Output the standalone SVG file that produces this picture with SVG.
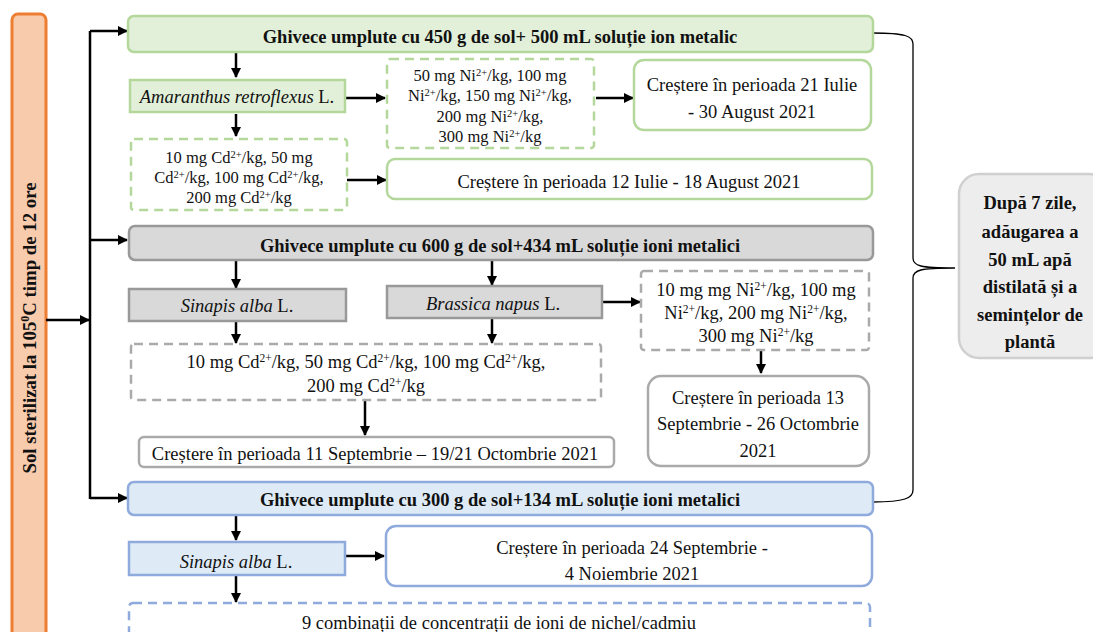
<svg xmlns="http://www.w3.org/2000/svg" width="1093" height="632" viewBox="0 0 1093 632">
<defs>
<marker id="ah" viewBox="0 0 10 10" refX="9" refY="5" markerWidth="4" markerHeight="4" orient="auto" markerUnits="strokeWidth"><path d="M0,0 L10,5 L0,10 z" fill="#000"/></marker>
<style>
text{font-family:"Liberation Serif","Times New Roman",serif;fill:#111;}
.b{font-weight:bold;font-size:18.5px;}
.v{font-weight:bold;font-size:18.8px;}
.r{font-size:18.5px;}
.s{font-size:16.5px;}
.m{font-size:18.5px;}
.gr{fill:#E2F0D9;stroke:#B4D89C;stroke-width:2.5;}
.grw{fill:#fff;stroke:#B4D89C;stroke-width:2.5;}
.grd{fill:#fff;stroke:#B4D89C;stroke-width:2.5;stroke-dasharray:9 6;}
.gy{fill:#D9D9D9;stroke:#999;stroke-width:2.5;}
.gyw{fill:#fff;stroke:#AAA;stroke-width:2.5;}
.gyd{fill:#fff;stroke:#AAA;stroke-width:2.5;stroke-dasharray:9 6;}
.bl{fill:#DEEBF7;stroke:#8FAADC;stroke-width:2.5;}
.blw{fill:#fff;stroke:#8FAADC;stroke-width:2.5;}
.bld{fill:#fff;stroke:#8FAADC;stroke-width:2.5;stroke-dasharray:9 6;}
.c{fill:none;stroke:#000;stroke-width:2.5;marker-end:url(#ah);}
.l{fill:none;stroke:#000;stroke-width:2.5;}
.sup{font-size:10.5px;}
.sup2{font-size:11.5px;}
</style>
</defs>

<g id="sol">
<rect x="12" y="14" width="34" height="640" rx="6" fill="#F8CBAD" stroke="#ED7D31" stroke-width="3"/>
<text class="v" transform="translate(36,328) rotate(-90)" text-anchor="middle">Sol sterilizat la 105<tspan dy="-7" font-size="12">0</tspan><tspan dy="7">C timp de 12 ore</tspan></text>
</g>

<g id="connectors">
<path class="c" d="M46,320 H89"/>
<path class="l" d="M90,31 V499"/>
<path class="c" d="M90,31 H127"/>
<path class="c" d="M90,240 H127"/>
<path class="c" d="M90,498 H127"/>
<path class="c" d="M236,53 V77"/>
<path class="c" d="M346,98 H385"/>
<path class="c" d="M596,98 H633"/>
<path class="c" d="M236,114 V136"/>
<path class="c" d="M347,180 H386"/>
<path class="c" d="M236,261 V288"/>
<path class="c" d="M492,261 V285"/>
<path class="c" d="M603,302 H640"/>
<path class="c" d="M761,351 V373"/>
<path class="c" d="M236,322 V343"/>
<path class="c" d="M492,319 V343"/>
<path class="c" d="M365,401 V435"/>
<path class="c" d="M236,516 V540"/>
<path class="c" d="M345,556 H384"/>
<path class="c" d="M236,576 V602"/>
<path fill="none" stroke="#000" stroke-width="1.3" d="M873,33 C905,33 913,36 913,44 V258 C913,266 920,268 955,268 C920,268 913,270 913,278 V490 C913,498 905,502 873,502"/>
</g>

<g id="top">
<rect class="gr" x="128" y="16" width="745" height="36" rx="6"/>
<text class="b" x="500" y="43" text-anchor="middle">Ghivece umplute cu 450 g de sol+ 500 mL soluție ion metalic</text>
</g>
<g id="amaranthus">
<rect class="gr" x="130" y="80" width="215" height="32"/>
<text class="m" x="237" y="103" text-anchor="middle"><tspan font-style="italic">Amaranthus retroflexus</tspan> L.</text>
</g>
<g id="ni1">
<rect class="grd" x="387" y="59" width="207" height="89" rx="3"/>
<text class="s" text-anchor="middle"><tspan x="490" y="81">50 mg Ni<tspan dy="-5" class="sup">2+</tspan><tspan dy="5">/kg, 100 mg</tspan></tspan><tspan x="490" y="101">Ni<tspan dy="-5" class="sup">2+</tspan><tspan dy="5">/kg, 150 mg Ni</tspan><tspan dy="-5" class="sup">2+</tspan><tspan dy="5">/kg,</tspan></tspan><tspan x="490" y="122">200 mg Ni<tspan dy="-5" class="sup">2+</tspan><tspan dy="5">/kg,</tspan></tspan><tspan x="490" y="142">300 mg Ni<tspan dy="-5" class="sup">2+</tspan><tspan dy="5">/kg</tspan></tspan></text>
</g>
<g id="c21iulie">
<rect class="grw" x="634" y="60" width="237" height="70" rx="10"/>
<text class="r" text-anchor="middle"><tspan x="752" y="91">Creștere în perioada 21 Iulie</tspan><tspan x="752" y="118">- 30 August 2021</tspan></text>
</g>
<g id="cd1">
<rect class="grd" x="131" y="139" width="216" height="71" rx="3"/>
<text class="s" text-anchor="middle"><tspan x="239" y="163">10 mg Cd<tspan dy="-5" class="sup">2+</tspan><tspan dy="5">/kg, 50 mg</tspan></tspan><tspan x="239" y="183">Cd<tspan dy="-5" class="sup">2+</tspan><tspan dy="5">/kg, 100 mg Cd</tspan><tspan dy="-5" class="sup">2+</tspan><tspan dy="5">/kg,</tspan></tspan><tspan x="239" y="203">200 mg Cd<tspan dy="-5" class="sup">2+</tspan><tspan dy="5">/kg</tspan></tspan></text>
</g>
<g id="c12iulie">
<rect class="grw" x="387" y="159" width="485" height="40" rx="8"/>
<text class="r" x="629" y="188" text-anchor="middle">Creștere în perioada 12 Iulie - 18 August 2021</text>
</g>

<g id="mid">
<rect class="gy" x="129" y="226" width="744" height="34" rx="6"/>
<text class="b" x="500" y="252" text-anchor="middle">Ghivece umplute cu 600 g de sol+434 mL soluție ioni metalici</text>
</g>
<g id="sinapis1">
<rect class="gy" x="129" y="289" width="217" height="32"/>
<text class="m" x="237" y="312" text-anchor="middle"><tspan font-style="italic">Sinapis alba</tspan> L.</text>
</g>
<g id="brassica">
<rect class="gy" x="387" y="286" width="215" height="32"/>
<text class="m" x="493" y="310" text-anchor="middle"><tspan font-style="italic">Brassica napus</tspan> L.</text>
</g>
<g id="ni2">
<rect class="gyd" x="641" y="271" width="228" height="79" rx="3"/>
<text class="r" text-anchor="middle"><tspan x="756" y="296">10 mg mg Ni<tspan dy="-6" class="sup2">2+</tspan><tspan dy="6">/kg, 100 mg</tspan></tspan><tspan x="756" y="319">Ni<tspan dy="-6" class="sup2">2+</tspan><tspan dy="6">/kg, 200 mg Ni</tspan><tspan dy="-6" class="sup2">2+</tspan><tspan dy="6">/kg,</tspan></tspan><tspan x="756" y="342">300 mg Ni<tspan dy="-6" class="sup2">2+</tspan><tspan dy="6">/kg</tspan></tspan></text>
</g>
<g id="c13sept">
<rect class="gyw" x="648" y="376" width="221" height="90" rx="13"/>
<text class="r" text-anchor="middle"><tspan x="758" y="404">Creștere în perioada 13</tspan><tspan x="758" y="430">Septembrie - 26 Octombrie</tspan><tspan x="758" y="457">2021</tspan></text>
</g>
<g id="cd2">
<rect class="gyd" x="131" y="344" width="470" height="56" rx="3"/>
<text class="r" text-anchor="middle"><tspan x="366" y="368">10 mg Cd<tspan dy="-6" class="sup2">2+</tspan><tspan dy="6">/kg, 50 mg Cd</tspan><tspan dy="-6" class="sup2">2+</tspan><tspan dy="6">/kg, 100 mg Cd</tspan><tspan dy="-6" class="sup2">2+</tspan><tspan dy="6">/kg,</tspan></tspan><tspan x="366" y="392">200 mg Cd<tspan dy="-6" class="sup2">2+</tspan><tspan dy="6">/kg</tspan></tspan></text>
</g>
<g id="c11sept">
<rect class="gyw" x="139" y="437" width="475" height="30" rx="5"/>
<text class="r" x="375" y="460" text-anchor="middle">Creștere în perioada 11 Septembrie – 19/21 Octombrie 2021</text>
</g>

<g id="bottom">
<rect class="bl" x="128" y="482" width="745" height="33" rx="6"/>
<text class="b" x="500" y="506" text-anchor="middle">Ghivece umplute cu 300 g de sol+134 mL soluție ioni metalici</text>
</g>
<g id="sinapis2">
<rect class="bl" x="129" y="542" width="216" height="33"/>
<text class="m" x="236" y="568" text-anchor="middle"><tspan font-style="italic">Sinapis alba</tspan> L.</text>
</g>
<g id="c24sept">
<rect class="blw" x="386" y="526" width="486" height="60" rx="10"/>
<text class="r" text-anchor="middle"><tspan x="632" y="554">Creștere în perioada 24 Septembrie -</tspan><tspan x="632" y="580">4 Noiembrie 2021</tspan></text>
</g>
<g id="combinatii">
<rect class="bld" x="129" y="603" width="741" height="60" rx="4"/>
<text class="r" x="499" y="629" text-anchor="middle">9 combinații de concentrații de ioni de nichel/cadmiu</text>
</g>

<g id="dupa">
<rect x="959" y="174" width="150" height="184" rx="20" fill="#EDEDED" stroke="#D0D0D0" stroke-width="2.5"/>
<text class="b" text-anchor="middle"><tspan x="1030" y="209">După 7 zile,</tspan><tspan x="1030" y="238">adăugarea a</tspan><tspan x="1030" y="266">50 mL apă</tspan><tspan x="1030" y="293">distilată și a</tspan><tspan x="1030" y="321">semințelor de</tspan><tspan x="1030" y="348">plantă</tspan></text>
</g>
</svg>
